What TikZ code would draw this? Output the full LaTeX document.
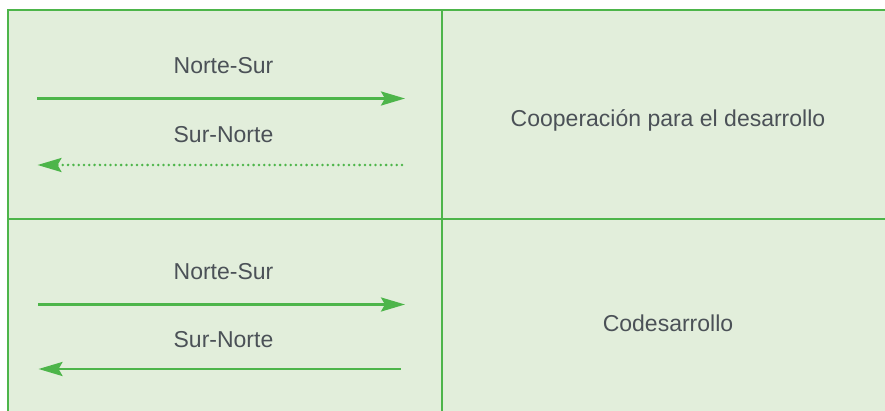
\documentclass[tikz,border=0pt]{standalone}
\usepackage{fontspec}
\setmainfont{Liberation Sans}
\usetikzlibrary{arrows.meta}
\definecolor{cellfill}{HTML}{E2EEDB}
\definecolor{rulegreen}{HTML}{4DB54A}
\definecolor{labelgray}{HTML}{4B5157}
\tikzset{
	grid line/.style={rulegreen,line width=2pt},
	flow/.style={rulegreen,line width=2.8pt,-{Stealth[length=24pt,width=14pt,inset=4pt]}},
	flow back/.style={flow,line cap=round,dash pattern=on 0pt off 5.3pt},
	lab/.style={text=labelgray,font=\fontsize{23}{27}\selectfont,anchor=base,inner sep=0pt},
}
\begin{document}
\begin{tikzpicture}[x=1pt,y=-1pt]
	\useasboundingbox (0,0) rectangle (885,411);
	\fill[cellfill] (8,10) rectangle (885,411);
	% table rules
	\draw[grid line] (885,10) -- (8,10) -- (8,411);
	\draw[grid line] (442,10) -- (442,411);
	\draw[grid line] (8,219) -- (885,219);
	
	% upper row
	\node[lab] (nsA) at (223.5,74) {Norte-Sur};
	\node[lab] (snA) at (223.5,142.5) {Sur-Norte};
	\node[lab] (coop) at (668,126.5) {Cooperación para el desarrollo};
	\coordinate (nsAl) at (37,98.5);
	\coordinate (nsAr) at (405,98.5);
	\coordinate (snAr) at (402,165);
	\coordinate (snAl) at (37.5,165);
	\draw[flow] (nsAl) -- (nsAr);
	\draw[flow back] (snAr) -- (snAl);
	
	% lower row
	\node[lab] (nsB) at (223.5,279.5) {Norte-Sur};
	\node[lab] (snB) at (223.5,347) {Sur-Norte};
	\node[lab] (codes) at (668,331) {Codesarrollo};
	\coordinate (nsBl) at (38,304.5);
	\coordinate (nsBr) at (405,304.5);
	\coordinate (snBr) at (400.5,369);
	\coordinate (snBl) at (38.5,369);
	\draw[flow] (nsBl) -- (nsBr);
	\draw[flow] (snBr) -- (snBl);
\end{tikzpicture}
\end{document}
